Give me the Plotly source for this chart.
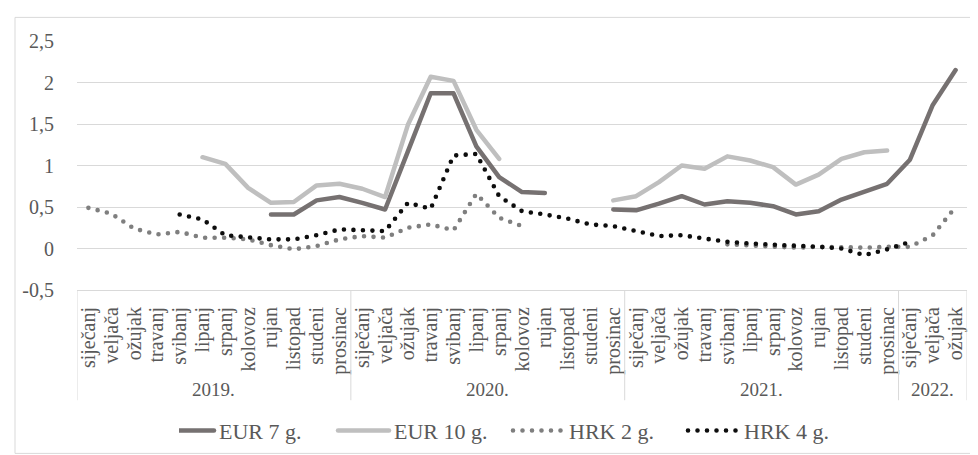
import plotly.graph_objects as go

months = ["siječanj", "veljača", "ožujak", "travanj", "svibanj", "lipanj",
          "srpanj", "kolovoz", "rujan", "listopad", "studeni", "prosinac"]
years = ["2019.", "2020.", "2021.", "2022."]
month_labels = months * 3 + months[:3]
year_sizes = [12, 12, 12, 3]

N = None
eur7 = [N, N, N, N, N, N, N, N, 0.41, 0.41, 0.58, 0.62,
        0.55, 0.47, 1.17, 1.87, 1.87, 1.23, 0.86, 0.68, 0.67, N, N, 0.47,
        0.46, 0.54, 0.63, 0.53, 0.57, 0.55, 0.51, 0.41, 0.45, 0.59, 0.68, 0.78,
        1.07, 1.73, 2.15]
eur10 = [N, N, N, N, N, 1.10, 1.02, 0.73, 0.55, 0.56, 0.76, 0.78,
         0.72, 0.62, 1.49, 2.07, 2.02, 1.43, 1.08, N, N, N, N, 0.58,
         0.63, 0.80, 1.00, 0.96, 1.11, 1.06, 0.98, 0.77, 0.89, 1.08, 1.16, 1.18,
         N, N, N]
hrk2 = [0.49, 0.42, 0.24, 0.17, 0.20, 0.13, 0.13, 0.11, 0.04, -0.01, 0.03, 0.11,
        0.15, 0.13, 0.25, 0.29, 0.22, 0.66, 0.37, 0.27, N, N, N, N,
        N, N, N, N, 0.05, 0.04, 0.03, 0.01, 0.02, 0.01, 0.01, 0.02,
        0.02, 0.16, 0.50]
hrk4 = [N, N, N, N, 0.41, 0.35, 0.16, 0.13, 0.11, 0.11, 0.16, 0.23,
        0.22, 0.21, 0.55, 0.48, 1.12, 1.14, 0.63, 0.45, 0.41, 0.36, 0.29, 0.27,
        0.21, 0.15, 0.16, 0.12, 0.08, 0.06, 0.05, 0.04, 0.02, 0.00, -0.08, -0.01,
        0.08, N, N]

y_ticks = [-0.5, 0, 0.5, 1, 1.5, 2, 2.5]
y_tick_text = ["-0,5", "0", "0,5", "1", "1,5", "2", "2,5"]

x = list(range(len(month_labels)))
FONT = "Liberation Serif"
TXT = "#595959"
GRID = "#d9d9d9"

fig = go.Figure()
fig.add_trace(go.Scatter(x=x, y=eur7, name="EUR 7 g.", mode="lines",
                         line=dict(color="#767171", width=4.5)))
fig.add_trace(go.Scatter(x=x, y=eur10, name="EUR 10 g.", mode="lines",
                         line=dict(color="#bfbfbf", width=4.5)))
fig.add_trace(go.Scatter(x=x, y=hrk2, name="HRK 2 g.", mode="lines",
                         line=dict(color="#7f7f7f", width=4.6, dash="0px,9.5px")))
fig.add_trace(go.Scatter(x=x, y=hrk4, name="HRK 4 g.", mode="lines",
                         line=dict(color="#0d0d0d", width=4.6, dash="0px,9.5px")))

L, R, T, B = 69, 959, 33, 286
W, H = 978, 455
pw, ph = R - L, B - T

def px(v):
    return (v - L) / pw

def py(v):
    return (B - v) / ph

shapes = []
for sx in [-0.5, 11.5, 23.5, 35.5, 38.5]:
    shapes.append(dict(type="line", xref="x", yref="paper", x0=sx, x1=sx,
                       y0=0, y1=py(398), line=dict(color=GRID, width=1)))
shapes.append(dict(type="rect", xref="paper", yref="paper",
                   x0=px(7), x1=px(977), y0=py(452), y1=py(9),
                   line=dict(color=GRID, width=1), fillcolor="rgba(0,0,0,0)"))

annotations = []
start = 0
for yr, n in zip(years, year_sizes):
    annotations.append(dict(xref="x", yref="paper", x=start + (n - 1) / 2, y=py(387),
                            text=yr, showarrow=False, xanchor="center", yanchor="middle",
                            font=dict(family=FONT, size=19, color=TXT)))
    start += n

fig.update_layout(
    width=W, height=H,
    margin=dict(l=L, r=W - R, t=T, b=H - B, pad=0),
    paper_bgcolor="white", plot_bgcolor="white",
    font=dict(family=FONT, size=19, color=TXT),
    showlegend=True,
    legend=dict(orientation="h", x=px(521), xanchor="center", y=py(429), yanchor="middle",
                entrywidth=130, entrywidthmode="pixels",
                font=dict(family=FONT, size=22, color=TXT), bgcolor="rgba(0,0,0,0)"),
    shapes=shapes, annotations=annotations,
)
fig.update_xaxes(range=[-0.5, 38.5], tickmode="array", tickvals=x, ticktext=month_labels,
                 tickangle=-90, showgrid=False, zeroline=False, showline=True,
                 linecolor=GRID, linewidth=1, ticks="", ticklabelstandoff=8,
                 tickfont=dict(family=FONT, size=20, color=TXT))
fig.update_yaxes(range=[-0.5, 2.5], tickmode="array", tickvals=y_ticks, ticktext=y_tick_text,
                 showgrid=True, gridcolor=GRID, gridwidth=1, zeroline=False, showline=False,
                 ticks="", ticklabelstandoff=22,
                 tickfont=dict(family=FONT, size=20, color=TXT))

post = """
var s = document.createElement('style');
s.innerHTML = '.scatterlayer path.js-line, .legendlines path {stroke-linecap: round; stroke-linejoin: round;}';
document.head.appendChild(s);
document.querySelectorAll('.legendlines path').forEach(function(p) { p.setAttribute('d', 'M-16,0h51'); });
"""
fig.write_html("out.html", post_script=post)
